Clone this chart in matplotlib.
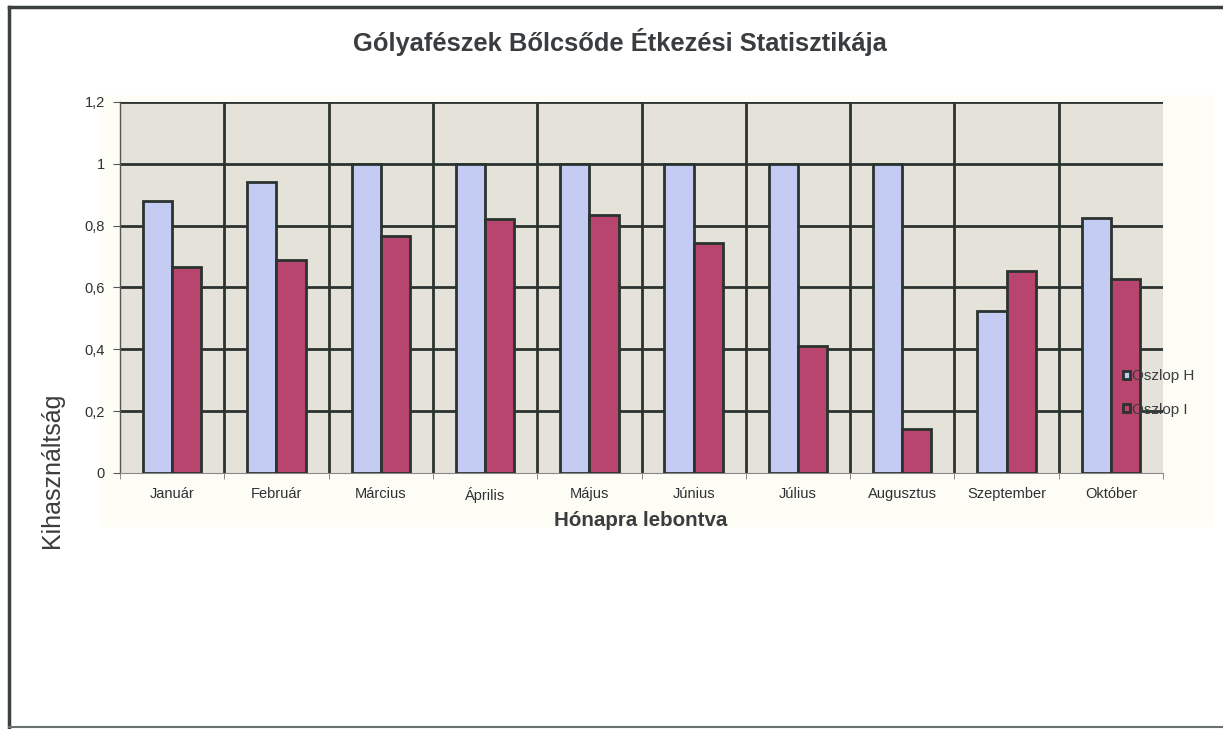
import numpy as np
import matplotlib.pyplot as plt
from matplotlib.patches import Patch, Rectangle
from matplotlib.lines import Line2D

plt.rcParams['font.family'] = ['Liberation Sans', 'DejaVu Sans']

months = ['Január', 'Február', 'Március', 'Április', 'Május',
          'Június', 'Július', 'Augusztus', 'Szeptember', 'Október']
oszlop_h = [0.88, 0.94, 1.0, 1.0, 1.0, 1.0, 1.0, 1.0, 0.525, 0.825]
oszlop_i = [0.667, 0.69, 0.767, 0.82, 0.835, 0.745, 0.41, 0.142, 0.654, 0.628]
y_ticks = [0, 0.2, 0.4, 0.6, 0.8, 1.0, 1.2]
y_labels = ['0', '0,2', '0,4', '0,6', '0,8', '1', '1,2']

W, H = 1223, 729
fig = plt.figure(figsize=(W / 100, H / 100), dpi=100)
fig.patch.set_facecolor('white')

# faint cream band behind plot area (scan artefact of chart area)
fig.add_artist(Rectangle((100 / W, 1 - 527 / H), (1213 - 100) / W, (527 - 95) / H,
                         transform=fig.transFigure, facecolor='#fefdf5',
                         edgecolor='none', zorder=0))

# outer frame: left, top, bottom
frame = '#3a3f40'
fig.add_artist(Line2D([9 / W, 9 / W], [1 - 727 / H, 1 - 7 / H], color=frame, lw=2.5,
                      transform=fig.transFigure))
fig.add_artist(Line2D([9 / W, 1.0], [1 - 7 / H, 1 - 7 / H], color=frame, lw=2.5,
                      transform=fig.transFigure))
fig.add_artist(Line2D([9 / W, 1.0], [1 - 727 / H, 1 - 727 / H], color='#6a7070', lw=1.5,
                      transform=fig.transFigure))

ax = fig.add_axes([120 / W, 1 - 473 / H, (1163 - 120) / W, (473 - 102) / H])
ax.set_facecolor('#e5e2da')

x = np.arange(len(months))
w = 0.28
edge = '#2b3330'
ax.bar(x - w / 2, oszlop_h, w, color='#c4ccf4', edgecolor=edge, linewidth=2, zorder=3,
       label='Oszlop H')
ax.bar(x + w / 2, oszlop_i, w, color='#b8456e', edgecolor=edge, linewidth=2, zorder=3,
       label='Oszlop I')

ax.set_xlim(-0.5, len(months) - 0.5)
ax.set_ylim(0, 1.2)

for y in y_ticks[1:]:
    ax.axhline(y, color=edge, lw=2, zorder=1)
for b in np.arange(0.5, len(months) - 0.5, 1):
    ax.axvline(b, color=edge, lw=2, zorder=1)

for s in ['top', 'right']:
    ax.spines[s].set_visible(False)
ax.spines['left'].set_color('#555')
ax.spines['bottom'].set_color('#888')
ax.spines['left'].set_linewidth(1)

ax.set_yticks(y_ticks)
ax.set_yticklabels(y_labels, fontsize=10.5, color='#2e3133')
ax.tick_params(axis='y', length=5, color='#555', pad=6)

ax.set_xticks(x)
ax.set_xticklabels(months, fontsize=10.5, color='#2e3133')
ax.tick_params(axis='x', length=0, pad=10)
ax.set_xticks(np.arange(-0.5, len(months)), minor=True)
ax.tick_params(axis='x', which='minor', length=4, color='#777')

fig.text(620 / W, 1 - 42 / H, 'Gólyafészek Bőlcsőde Étkezési Statisztikája',
         ha='center', va='center', fontsize=18.4, fontweight='bold', color='#3a3d40')
fig.text(641 / W, 1 - 520 / H, 'Hónapra lebontva', ha='center', va='center',
         fontsize=14.8, fontweight='bold', color='#3a3d40')
fig.text(52 / W, 1 - 470 / H, 'Kihasználtság', ha='center', va='center',
         rotation=90, fontsize=18, color='#3a3d40')

handles = [Patch(facecolor='#c4ccf4', edgecolor=edge, linewidth=2, label='Oszlop H'),
           Patch(facecolor='#b8456e', edgecolor=edge, linewidth=2, label='Oszlop I')]
leg = fig.legend(handles=handles, loc='center left', bbox_to_anchor=(1115 / W, 1 - 393 / H),
                 frameon=False, fontsize=11, handlelength=0.5, handleheight=0.5,
                 handletextpad=0.1, labelspacing=1.25, borderpad=0)
for t in leg.get_texts():
    t.set_color('#3a3d40')

fig.savefig('out.png', dpi=100)
